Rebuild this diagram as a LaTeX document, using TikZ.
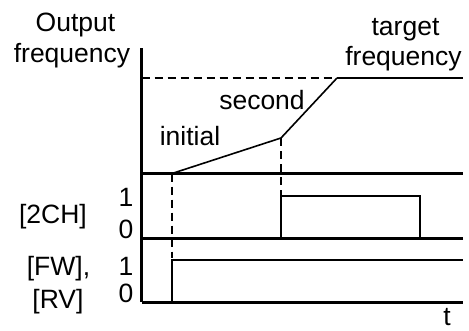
\documentclass[tikz,border=0pt]{standalone}
\usepackage{fontspec}
\setmainfont{Liberation Sans}
\begin{document}
\begin{tikzpicture}[x=1pt,y=-1pt,
  lbl/.style={font=\fontsize{26.5}{30}\selectfont, inner sep=0pt, anchor=base},
  axis/.style={line width=3pt},
  sig/.style={line width=2pt},
  ramp/.style={line width=1.6pt},
  guide/.style={line width=2pt, dash pattern=on 8pt off 5pt}]
\useasboundingbox (0,0) rectangle (469,330);
% axes and baselines
\coordinate (top) at (141.5,48);
\coordinate (o1) at (141.5,173.5);
\coordinate (o2) at (141.5,238);
\coordinate (o3) at (141.5,302);
\coordinate (e1) at (463,173.5);
\coordinate (e2) at (463,238);
\coordinate (e3) at (463,302);
\draw[axis] (top) -- (o3);
\draw[axis] (o1) -- (e1);
\draw[axis] (o2) -- (e2);
\draw[axis] (o3) -- (e3);
% frequency profile
\coordinate (start) at (172,173.5);
\coordinate (knee) at (281,138);
\coordinate (reach) at (337,78);
\coordinate (tend) at (463,78);
\coordinate (tax) at (141.5,78);
\draw[guide] (tax) -- (reach);
\draw[ramp] (start) -- (knee) -- (reach);
\draw[sig] (reach) -- (tend);
% guides
\coordinate (g1) at (172,258);
\coordinate (g2) at (281,196);
\draw[guide] (start) -- (g1);
\draw[guide] (knee) -- (g2);
% 2CH pulse
\coordinate (p1) at (281,238);
\coordinate (p2) at (281,196);
\coordinate (p3) at (420,196);
\coordinate (p4) at (420,238);
\draw[sig] (p1) -- (p2) -- (p3) -- (p4);
% FW pulse
\coordinate (f1) at (172,302);
\coordinate (f2) at (172,259.5);
\coordinate (f3) at (463,259.5);
\draw[sig] (f1) -- (f2) -- (f3);
% labels
\node[lbl] (out) at (75.5,31) {Output};
\node[lbl] (freq) at (72,62) {frequency};
\node[lbl] (tgt) at (405.5,35) {target};
\node[lbl] (tfreq) at (403.5,65.5) {frequency};
\node[lbl] (init) at (190,145) {initial};
\node[lbl] (sec) at (262,109) {second};
\node[lbl] (ch) at (53,223) {[2CH]};
\node[lbl] (ch1) at (126,206.5) {1};
\node[lbl] (ch0) at (126,238.5) {0};
\node[lbl] (fw) at (58.5,275) {[FW],};
\node[lbl] (rv) at (58,308) {[RV]};
\node[lbl] (fw1) at (126,275) {1};
\node[lbl] (fw0) at (126,302.5) {0};
\node[lbl] (t) at (447,325) {t};
\end{tikzpicture}
\end{document}
